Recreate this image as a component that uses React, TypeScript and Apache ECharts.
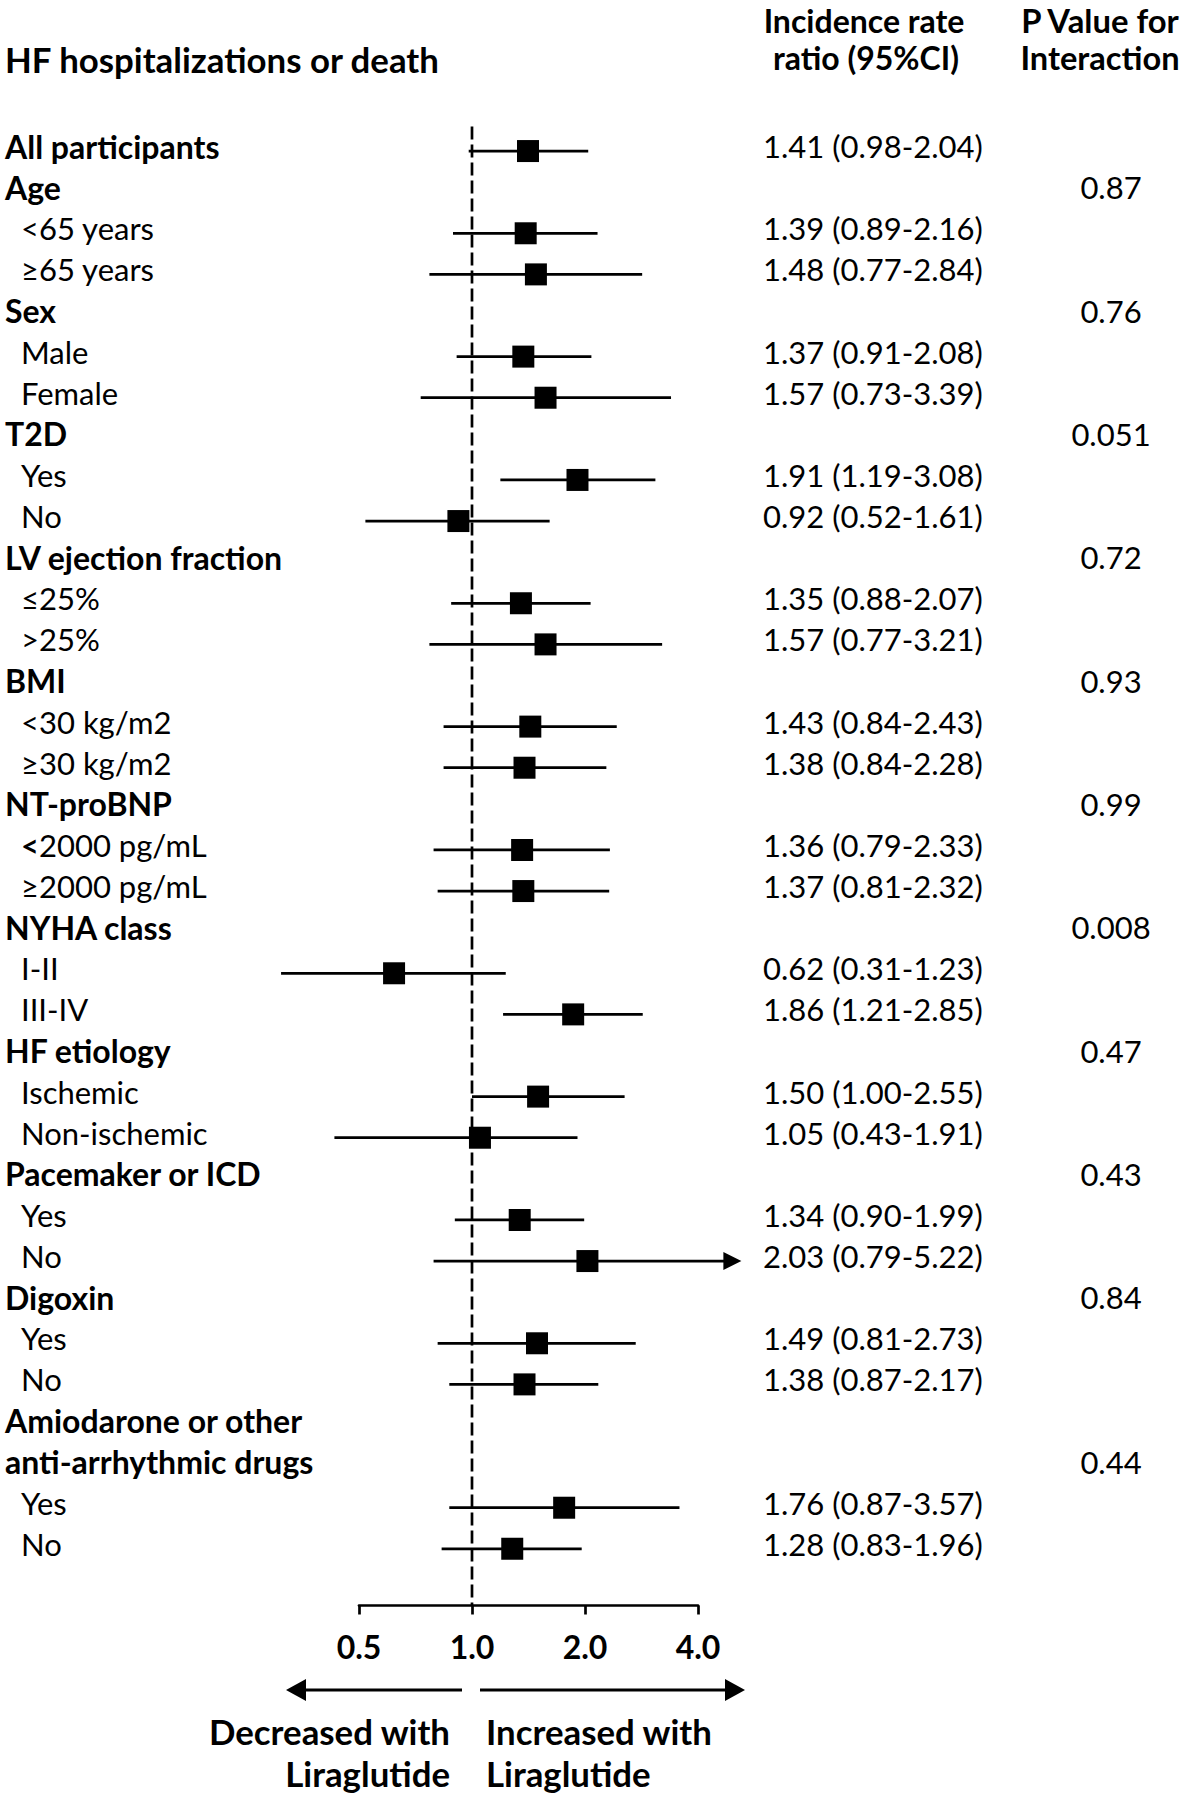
import React, { useEffect, useRef } from "react";
import * as echarts from "echarts";

// ---- data ----
const rowLabels: string[] = [
  "All participants",
  "Age", "<65 years", "≥65 years",
  "Sex", "Male", "Female",
  "T2D", "Yes", "No",
  "LV ejection fraction", "≤25%", ">25%",
  "BMI", "<30 kg/m2", "≥30 kg/m2",
  "NT-proBNP", "<2000 pg/mL", "≥2000 pg/mL",
  "NYHA class", "I-II", "III-IV",
  "HF etiology", "Ischemic", "Non-ischemic",
  "Pacemaker or ICD", "Yes", "No",
  "Digoxin", "Yes", "No",
  "Amiodarone or other", "anti-arrhythmic drugs", "Yes", "No",
];
const rowIsHeader: boolean[] = [
  true,
  true, false, false,
  true, false, false,
  true, false, false,
  true, false, false,
  true, false, false,
  true, false, false,
  true, false, false,
  true, false, false,
  true, false, false,
  true, false, false,
  true, true, false, false,
];
// number of leading characters printed in bold on subgroup rows
const boldLeadChars: number[] = rowLabels.map((_, i) => (i === 17 ? 1 : 0));

const estimates: (number | null)[] = [
  1.41,
  null, 1.39, 1.48,
  null, 1.37, 1.57,
  null, 1.91, 0.92,
  null, 1.35, 1.57,
  null, 1.43, 1.38,
  null, 1.36, 1.37,
  null, 0.62, 1.86,
  null, 1.50, 1.05,
  null, 1.34, 2.03,
  null, 1.49, 1.38,
  null, null, 1.76, 1.28,
];
const lowers: (number | null)[] = [
  0.98,
  null, 0.89, 0.77,
  null, 0.91, 0.73,
  null, 1.19, 0.52,
  null, 0.88, 0.77,
  null, 0.84, 0.84,
  null, 0.79, 0.81,
  null, 0.31, 1.21,
  null, 1.00, 0.43,
  null, 0.90, 0.79,
  null, 0.81, 0.87,
  null, null, 0.87, 0.83,
];
const uppers: (number | null)[] = [
  2.04,
  null, 2.16, 2.84,
  null, 2.08, 3.39,
  null, 3.08, 1.61,
  null, 2.07, 3.21,
  null, 2.43, 2.28,
  null, 2.33, 2.32,
  null, 1.23, 2.85,
  null, 2.55, 1.91,
  null, 1.99, 5.22,
  null, 2.73, 2.17,
  null, null, 3.57, 1.96,
];
const pValues: string[] = [
  "",
  "0.87", "", "",
  "0.76", "", "",
  "0.051", "", "",
  "0.72", "", "",
  "0.93", "", "",
  "0.99", "", "",
  "0.008", "", "",
  "0.47", "", "",
  "0.43", "", "",
  "0.84", "", "",
  "", "0.44", "", "",
];
const xTickLabels: string[] = ["0.5", "1.0", "2.0", "4.0"];
const axisMinRatio = 0.5;
const axisMaxRatio = 4;
const nullRatio = 1;

// one extra empty category below the last row (space above the x axis)
const categories: string[] = [...rowLabels.map((_, i) => String(i)), "pad"];

const FONT = "Lato";
const FS = 31; // regular row text
const FSB = 32; // bold row labels / column headers
const FST = 34.8; // title and bottom captions
const log2 = (v: number) => Math.log(v) / Math.LN2;

export default function App() {
  const ref = useRef<HTMLDivElement>(null);

  useEffect(() => {
    document.body.style.margin = "0";
    if (!ref.current) return;
    const chart = echarts.init(ref.current, null, { renderer: "svg" });

    const gridLeft = 359;
    const gridWidth = 339;
    const gridTop = 125.5;
    const gridHeight = 1480;
    const irrX = 763;
    const pX = 1111;
    const markerDy = 5;

    // [log2(est), row, log2(lo), log2(hi)]
    const ciData: number[][] = [];
    estimates.forEach((e, i) => {
      if (e !== null && lowers[i] !== null && uppers[i] !== null) {
        ciData.push([log2(e), i, log2(lowers[i] as number), log2(uppers[i] as number)]);
      }
    });
    const textRows: number[][] = rowLabels.map((_, i) => [0, i]);

    const leftLabel = (idx: number) => {
      if (idx >= rowLabels.length) return "";
      const t = rowLabels[idx];
      if (rowIsHeader[idx]) return `{h|${t}}`;
      const n = boldLeadChars[idx];
      if (n > 0) return `{ib|${t.slice(0, n)}}{s|${t.slice(n)}}`;
      return `{i|${t}}`;
    };
    const irrLabel = (idx: number) => {
      const e = estimates[idx];
      if (e === null || e === undefined) return "";
      return `${e.toFixed(2)} (${(lowers[idx] as number).toFixed(2)}-${(uppers[idx] as number).toFixed(2)})`;
    };
    const xMaxLog = log2(axisMaxRatio);

    const option: any = {
      animation: false,
      backgroundColor: "#fff",
      textStyle: { fontFamily: FONT, color: "#000" },
      grid: { left: gridLeft, width: gridWidth, top: gridTop, height: gridHeight, containLabel: false },
      xAxis: {
        type: "value",
        min: log2(axisMinRatio),
        max: xMaxLog,
        interval: 1,
        position: "bottom",
        splitLine: { show: false },
        axisLine: { show: true, lineStyle: { color: "#000", width: 2.7 } },
        axisTick: { show: true, length: 9, lineStyle: { color: "#000", width: 2.7 } },
        axisLabel: {
          show: true,
          color: "#000",
          fontFamily: FONT,
          fontWeight: "bold",
          fontSize: 32,
          margin: 25,
          formatter: (v: number) => {
            const k = Math.round(v - log2(axisMinRatio));
            return xTickLabels[k] !== undefined ? xTickLabels[k] : "";
          },
        },
      },
      yAxis: {
        type: "category",
        data: categories,
        inverse: true,
        position: "left",
        axisLine: { show: false },
        axisTick: { show: false },
        splitLine: { show: false },
        axisLabel: {
          interval: 0,
          align: "left",
          margin: gridLeft - 5,
          formatter: (_v: string, idx: number) => leftLabel(idx),
          rich: {
            h: { fontFamily: FONT, fontSize: FSB, fontWeight: "bold", color: "#000" },
            i: { fontFamily: FONT, fontSize: FS, color: "#000", padding: [0, 0, 0, 16] },
            ib: { fontFamily: FONT, fontSize: FS, fontWeight: "bold", color: "#000", padding: [0, 0, 0, 16] },
            s: { fontFamily: FONT, fontSize: FS, color: "#000" },
          },
        },
      },
      series: [
        {
          // dashed line of no effect
          type: "custom",
          clip: false,
          silent: true,
          encode: { x: 0, y: 1 },
          data: [[log2(nullRatio), 0]],
          renderItem: (params: any, api: any) => {
            const p = api.coord([api.value(0), api.value(1)]);
            const cs = params.coordSys;
            return {
              type: "line",
              shape: { x1: p[0], y1: cs.y + 1, x2: p[0], y2: cs.y + cs.height },
              style: { stroke: "#000", lineWidth: 2.7, lineDash: [13, 5] },
            };
          },
        },
        {
          // CI lines and squares
          type: "custom",
          clip: false,
          silent: true,
          encode: { x: 0, y: 1 },
          data: ciData,
          renderItem: (_params: any, api: any) => {
            const row = api.value(1);
            const c = api.coord([api.value(0), row]);
            const l = api.coord([api.value(2), row]);
            const hiLog = api.value(3);
            const h = api.coord([hiLog, row]);
            const y = c[1] + markerDy;
            const half = 11;
            const truncated = hiLog > xMaxLog;
            const head = 18;
            const children: any[] = [
              {
                type: "line",
                shape: { x1: l[0], y1: y, x2: truncated ? h[0] - head + 1 : h[0], y2: y },
                style: { stroke: "#000", lineWidth: 2.7 },
              },
              {
                type: "rect",
                shape: { x: c[0] - half, y: y - half, width: half * 2, height: half * 2 },
                style: { fill: "#000" },
              },
            ];
            if (truncated) {
              children.push({
                type: "polygon",
                shape: { points: [[h[0] - head, y - 9], [h[0], y], [h[0] - head, y + 9]] },
                style: { fill: "#000" },
              });
            }
            return { type: "group", children };
          },
        },
        {
          // IRR text and interaction p-values, one per row
          type: "custom",
          clip: false,
          silent: true,
          encode: { x: 0, y: 1 },
          data: textRows,
          renderItem: (_params: any, api: any) => {
            const row = api.value(1);
            const p = api.coord([api.value(0), row]);
            return {
              type: "group",
              children: [
                {
                  type: "text",
                  x: irrX,
                  y: p[1],
                  style: {
                    text: irrLabel(row),
                    font: `${FS}px ${FONT}`,
                    fill: "#000",
                    align: "left",
                    verticalAlign: "middle",
                  },
                },
                {
                  type: "text",
                  x: pX,
                  y: p[1],
                  style: {
                    text: pValues[row] || "",
                    font: `${FS}px ${FONT}`,
                    fill: "#000",
                    align: "center",
                    verticalAlign: "middle",
                  },
                },
              ],
            };
          },
        },
      ],
      graphic: [
        {
          type: "text",
          x: 5,
          y: 59,
          style: { text: "HF hospitalizations or death", font: `bold ${FST}px ${FONT}`, fill: "#000", align: "left", verticalAlign: "middle" },
        },
        {
          type: "text",
          x: 864,
          y: 20,
          style: { text: "Incidence rate", font: `bold ${FSB}px ${FONT}`, fill: "#000", align: "center", verticalAlign: "middle" },
        },
        {
          type: "text",
          x: 866,
          y: 57,
          style: { text: "ratio (95%CI)", font: `bold ${FSB}px ${FONT}`, fill: "#000", align: "center", verticalAlign: "middle" },
        },
        {
          type: "text",
          x: 1100,
          y: 20,
          style: { text: "P Value for", font: `bold 32.8px ${FONT}`, fill: "#000", align: "center", verticalAlign: "middle" },
        },
        {
          type: "text",
          x: 1100,
          y: 57,
          style: { text: "Interaction", font: `bold 32.6px ${FONT}`, fill: "#000", align: "center", verticalAlign: "middle" },
        },
        // direction arrows
        { type: "line", shape: { x1: 462, y1: 1690, x2: 302, y2: 1690 }, style: { stroke: "#000", lineWidth: 3.2 } },
        { type: "polygon", shape: { points: [[286, 1690], [306, 1679], [306, 1701]] }, style: { fill: "#000" } },
        { type: "line", shape: { x1: 480, y1: 1690, x2: 727, y2: 1690 }, style: { stroke: "#000", lineWidth: 3.2 } },
        { type: "polygon", shape: { points: [[745, 1690], [725, 1679], [725, 1701]] }, style: { fill: "#000" } },
        {
          type: "text",
          x: 450,
          y: 1731,
          style: { text: "Decreased with", font: `bold ${FST}px ${FONT}`, fill: "#000", align: "right", verticalAlign: "middle" },
        },
        {
          type: "text",
          x: 450,
          y: 1773,
          style: { text: "Liraglutide", font: `bold ${FST}px ${FONT}`, fill: "#000", align: "right", verticalAlign: "middle" },
        },
        {
          type: "text",
          x: 486,
          y: 1731,
          style: { text: "Increased with", font: `bold ${FST}px ${FONT}`, fill: "#000", align: "left", verticalAlign: "middle" },
        },
        {
          type: "text",
          x: 486,
          y: 1773,
          style: { text: "Liraglutide", font: `bold ${FST}px ${FONT}`, fill: "#000", align: "left", verticalAlign: "middle" },
        },
      ],
    };

    chart.setOption(option);
    return () => {
      chart.dispose();
    };
  }, []);

  return <div ref={ref} style={{ width: 1183, height: 1800 }} />;
}
